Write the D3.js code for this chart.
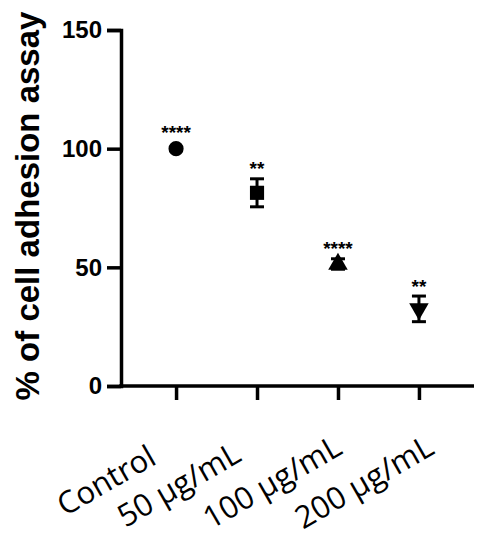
<!DOCTYPE html>
<html>
<head>
<meta charset="utf-8">
<script src="https://cdn.jsdelivr.net/npm/d3@7"></script>
<style>
  html, body { margin: 0; padding: 0; background: #fff; }
  svg { display: block; }
</style>
</head>
<body>
<svg id="chart" width="492" height="550"></svg>
<script>
// ---- data ----
const categories = ["Control", "50 µg/mL", "100 µg/mL", "200 µg/mL"];
const means = [100, 81.4, 51.4, 32.5];
const sds = [0, 5.9, 2.2, 5.4];
const signif = ["****", "**", "****", "**"];
const markers = ["circle", "square", "triangle", "triangleDown"];
const yTicks = [0, 50, 100, 150];
const yLabel = "% of cell adhesion assay";

// ---- layout (not data) ----
const labelEndDx = [-18, -14, 6, 17];
const labelEndY = [463, 460, 453, 453];

const svg = d3.select("#chart");
const x = d3.scalePoint().domain(categories).range([121, 474]).padding(0.68);
const y = d3.scaleLinear().domain([0, 150]).range([386, 30]);

// axes
const yAxis = svg.append("g").attr("transform", "translate(121,0)")
  .call(d3.axisLeft(y).tickValues(yTicks).tickSize(14).tickPadding(5).tickFormat(d3.format("d")));
yAxis.select(".domain").attr("stroke", "#000").attr("stroke-width", 3.5);
yAxis.selectAll(".tick line").attr("stroke", "#000").attr("stroke-width", 3.5);
yAxis.selectAll("text").attr("font-family", "Liberation Sans, Arial, sans-serif")
  .attr("font-weight", "bold").attr("font-size", 24).attr("fill", "#000");

const xAxis = svg.append("g").attr("transform", "translate(0,386)")
  .call(d3.axisBottom(x).tickSize(14).tickSizeOuter(0).tickFormat(""));
xAxis.select(".domain").attr("stroke", "#000").attr("stroke-width", 3.5)
  .attr("d", "M119.25,0H474");
xAxis.selectAll(".tick line").attr("stroke", "#000").attr("stroke-width", 3.5);

// x labels
svg.append("g").selectAll("text").data(categories).join("text")
  .attr("transform", (d, i) => `translate(${x(d) + labelEndDx[i]},${labelEndY[i]}) rotate(-30)`)
  .attr("text-anchor", "end")
  .attr("font-family", "Open Sans, sans-serif")
  .attr("font-size", 31)
  .attr("fill", "#000")
  .text(d => d);

// y label
svg.append("text")
  .attr("transform", "translate(39,206) rotate(-90)")
  .attr("text-anchor", "middle")
  .attr("font-family", "Liberation Sans, Arial, sans-serif")
  .attr("font-weight", "bold")
  .attr("font-size", 33)
  .attr("fill", "#000")
  .text(yLabel);

// error bars
const capW = 7;
const eb = svg.append("g").attr("stroke", "#000").attr("stroke-width", 3);
categories.forEach((c, i) => {
  if (sds[i] <= 0) return;
  const cx = x(c), top = y(means[i] + sds[i]), bot = y(means[i] - sds[i]);
  eb.append("line").attr("x1", cx).attr("x2", cx).attr("y1", top).attr("y2", bot);
  eb.append("line").attr("x1", cx - capW).attr("x2", cx + capW).attr("y1", top).attr("y2", top);
  eb.append("line").attr("x1", cx - capW).attr("x2", cx + capW).attr("y1", bot).attr("y2", bot);
});

// markers
const symType = { circle: d3.symbolCircle, square: d3.symbolSquare, triangle: d3.symbolTriangle, triangleDown: d3.symbolTriangle };
const symSize = { circle: 180, square: 200, triangle: 165, triangleDown: 165 };
svg.append("g").selectAll("path").data(categories).join("path")
  .attr("transform", (d, i) => `translate(${x(d)},${y(means[i])})${markers[i] === "triangleDown" ? " rotate(180)" : ""}`)
  .attr("d", (d, i) => d3.symbol().type(symType[markers[i]]).size(symSize[markers[i]])())
  .attr("fill", "#000");

// significance stars
svg.append("g").selectAll("text").data(categories).join("text")
  .attr("x", d => x(d))
  .attr("y", (d, i) => Math.min(y(means[i] + sds[i]) - 1.5, y(means[i]) - 7.5) - 2)
  .attr("text-anchor", "middle")
  .attr("font-family", "Liberation Sans, Arial, sans-serif")
  .attr("font-weight", "bold")
  .attr("font-size", 19)
  .attr("fill", "#000")
  .text((d, i) => signif[i]);
</script>
</body>
</html>
